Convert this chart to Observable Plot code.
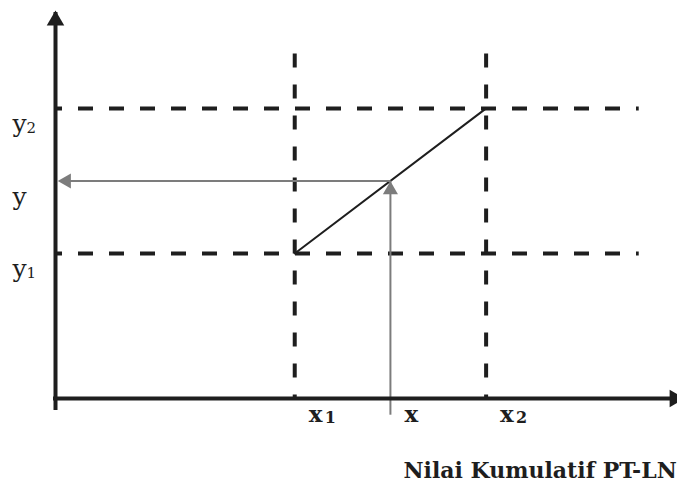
<!DOCTYPE html>
<html>
<head>
<meta charset="utf-8">
<script src="https://cdn.jsdelivr.net/npm/d3@7"></script>
<script src="https://cdn.jsdelivr.net/npm/@observablehq/plot@0.6"></script>
<style>
  html, body { margin: 0; padding: 0; background: #fff; overflow: hidden; }
</style>
</head>
<body>
<div id="chart"></div>
<script>
// ---- data ----
const xTicks = [
  {label: "x", sub: "1", value: 5},
  {label: "x", sub: "",  value: 7},
  {label: "x", sub: "2", value: 9}
];
const yTicks = [
  {label: "y", sub: "2", value: 4},
  {label: "y", sub: "",  value: 3},
  {label: "y", sub: "1", value: 2}
];
const x1 = 5, x2 = 9, xq = 7;
const y1 = 2, y2 = 4, yq = 3;
const segment = [{x: x1, y: y1}, {x: x2, y: y2}];
const xMax = 13.15, yMax = 5.35;        // axis extents (arrow tips)
const guideXEnd = 12.2, guideYEnd = 4.75; // extent of dashed guides
const title = "Nilai Kumulatif PT-LN";

const serif = "DejaVu Serif";
const ink = "#1e1e1e";
const gray = "#7c7c7c";

const chart = Plot.plot({
  width: 677,
  height: 483,
  margin: 0,
  style: {background: "#fff"},
  x: {domain: [0, 13], range: [55, 677], axis: null},
  y: {domain: [0, yMax], range: [398, 10], axis: null},
  marks: [
    // dashed horizontal guides (y1, y2)
    Plot.ruleY([y1, y2], {x1: 0, x2: guideXEnd, stroke: ink, strokeWidth: 4,
      strokeDasharray: "15,16", strokeDashoffset: 8}),
    // dashed vertical guides (x1, x2)
    Plot.ruleX([x1, x2], {y1: guideYEnd, y2: 0, stroke: ink, strokeWidth: 4,
      strokeDasharray: "14,17"}),
    // interpolation segment
    Plot.line(segment, {x: "x", y: "y", stroke: ink, strokeWidth: 2}),
    // gray arrows: x up to line, then across to y axis
    Plot.ruleX([xq], {y1: -0.12, y2: yq, stroke: gray, strokeWidth: 2, insetTop: 8}),
    Plot.ruleY([yq], {x1: 0, x2: xq, stroke: gray, strokeWidth: 2, insetLeft: 10}),
    Plot.dot([{x: xq, y: yq}], {x: "x", y: "y", symbol: "triangle", r: 5.6,
      fill: gray, stroke: null, dy: 9}),
    Plot.dot([{x: 0, y: yq}], {x: "x", y: "y", symbol: "triangle", r: 5.6,
      fill: gray, stroke: null, rotate: -90, dx: 11}),
    // axes
    Plot.ruleX([0], {y1: 0, y2: yMax, stroke: ink, strokeWidth: 4, insetTop: 12, insetBottom: -2}),
    Plot.ruleY([0], {x1: 0, x2: xMax, stroke: ink, strokeWidth: 4, insetRight: 12, insetLeft: -2}),
    Plot.dot([{x: 0, y: yMax}], {x: "x", y: "y", symbol: "triangle", r: 6.5,
      fill: ink, stroke: null, dy: 10}),
    Plot.dot([{x: xMax, y: 0}], {x: "x", y: "y", symbol: "triangle", r: 6.5,
      fill: ink, stroke: null, rotate: 90, dx: -10}),
    // y labels
    Plot.text(yTicks, {x: () => 0, y: "value", text: "label", dx: -43, dy: 24,
      textAnchor: "start", lineAnchor: "bottom", fontFamily: serif, fontSize: 25, fill: ink}),
    Plot.text(yTicks, {x: () => 0, y: "value", text: "sub", dx: -29, dy: 25,
      textAnchor: "start", lineAnchor: "bottom", fontFamily: serif, fontSize: 15, fill: ink}),
    // x labels
    Plot.text(xTicks, {x: "value", y: () => 0, text: "label", dx: 14, dy: 23,
      textAnchor: "start", lineAnchor: "bottom", fontFamily: serif, fontWeight: "bold", fontSize: 23, fill: ink}),
    Plot.text(xTicks, {x: "value", y: () => 0, text: "sub", dx: 30, dy: 24,
      textAnchor: "start", lineAnchor: "bottom", fontFamily: serif, fontWeight: "bold", fontSize: 16, fill: ink}),
    // axis title
    Plot.text([title], {frameAnchor: "bottom-left", dx: 403, dy: -6,
      textAnchor: "start", lineAnchor: "bottom", fontFamily: serif, fontWeight: "bold", fontSize: 22, fill: ink})
  ]
});
document.getElementById("chart").appendChild(chart);
</script>
</body>
</html>
